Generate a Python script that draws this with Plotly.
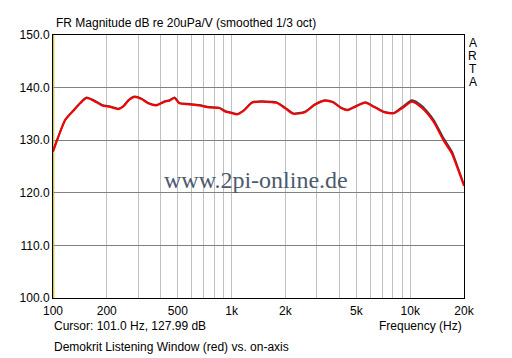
import math
import plotly.graph_objects as go

# ---- data ----
freq_hz = [100, 106, 117, 131, 142, 154, 169, 188, 209, 232,
           248, 264, 287, 313, 341, 379, 422, 449, 479, 510,
           580, 659, 748, 851, 925, 1008, 1074, 1170, 1300, 1477,
           1680, 1790, 1990, 2215, 2570, 2920, 3315, 3690, 4100, 4470,
           4970, 5600, 6280, 7130, 8100, 9020, 10240, 11640, 13500, 15340,
           17070, 18570, 20000]
listening_window_db = [127.8, 130.2, 133.8, 135.7, 137.0, 138.0, 137.5, 136.6, 136.3, 135.9,
                       136.4, 137.5, 138.2, 137.8, 137.0, 136.6, 137.3, 137.5, 138.0, 137.0,
                       136.8, 136.6, 136.2, 136.1, 135.4, 135.1, 134.9, 135.6, 137.1, 137.3,
                       137.2, 137.1, 136.1, 135.0, 135.3, 136.7, 137.5, 137.2, 136.1, 135.7,
                       136.4, 137.1, 136.3, 135.3, 135.1, 136.1, 137.3, 136.1, 133.5, 130.0,
                       127.5, 124.3, 121.3]
on_axis_db = [127.9, 130.3, 133.9, 135.8, 137.1, 138.1, 137.6, 136.7, 136.4, 136.0,
              136.5, 137.6, 138.3, 137.9, 137.1, 136.7, 137.4, 137.6, 138.1, 137.1,
              136.9, 136.7, 136.3, 136.2, 135.5, 135.2, 135.0, 135.7, 137.2, 137.4,
              137.3, 137.2, 136.2, 135.1, 135.4, 136.8, 137.6, 137.3, 136.2, 135.8,
              136.5, 137.2, 136.4, 135.4, 135.2, 136.3, 137.6, 136.5, 133.9, 130.4,
              127.9, 124.6, 121.5]
cursor_freq = 101.0
cursor_db_range = [100, 150]

grid_freqs = [100, 200, 300, 400, 500, 600, 700, 800, 900,
              1000, 2000, 3000, 4000, 5000, 6000, 7000, 8000, 9000,
              10000, 20000]
labeled = {100: "100", 200: "200", 500: "500", 1000: "1k", 2000: "2k",
           5000: "5k", 10000: "10k", 20000: "20k"}
major_freqs = [1000, 10000]
y_ticks = [100, 110, 120, 130, 140, 150]
arta_letters = ["A", "R", "T", "A"]

title_text = "FR Magnitude dB re 20uPa/V (smoothed 1/3 oct)"
cursor_text = "Cursor: 101.0 Hz, 127.99 dB"
xlabel_text = "Frequency (Hz)"
caption_text = "Demokrit Listening Window (red) vs. on-axis"
watermark_text = "www.2pi-online.de"

FONT = "Liberation Sans, Arial, sans-serif"
# page has an 8px body margin; the figure is sized to fit in the window
OFF = 8
W, H = 512 - OFF, 358 - OFF
PLOT_L, PLOT_T, PLOT_R, PLOT_B = 49, 35, 464, 298  # page pixels
PW, PH = PLOT_R - PLOT_L, PLOT_B - PLOT_T
L, T = PLOT_L - OFF, PLOT_T - OFF
R, B = W - L - PW, H - T - PH

def px(x):
    return (x - PLOT_L) / PW

def py(y):
    return (PLOT_B - y) / PH

fig = go.Figure()
fig.add_trace(go.Scatter(x=[cursor_freq, cursor_freq], y=cursor_db_range, mode="lines",
                         line=dict(color="#b8b800", width=1), hoverinfo="skip"))
fig.add_trace(go.Scatter(x=freq_hz, y=on_axis_db, mode="lines",
                         line=dict(color="#404040", width=2, shape="spline", smoothing=0.6)))
fig.add_trace(go.Scatter(x=freq_hz, y=listening_window_db, mode="lines",
                         line=dict(color="#ff0000", width=2, shape="spline", smoothing=0.6)))

xr = [math.log10(100), math.log10(20000)]

fig.update_layout(
    width=W, height=H,
    margin=dict(l=L, r=R, t=T, b=B, pad=0),
    paper_bgcolor="white", plot_bgcolor="white",
    showlegend=False,
    font=dict(family=FONT, size=12, color="black"),
    xaxis=dict(type="log", range=xr, tickmode="array", tickvals=grid_freqs,
               ticktext=[labeled.get(f, "") for f in grid_freqs],
               showgrid=True, gridcolor="#c0c0c0", gridwidth=1,
               showline=True, linecolor="black", linewidth=1, mirror=True,
               ticks="", zeroline=False, ticklabelstandoff=2,
               tickfont=dict(size=12, family=FONT)),
    xaxis2=dict(type="log", range=xr, overlaying="x", tickmode="array", tickvals=major_freqs,
                showticklabels=False, showgrid=True, gridcolor="#808080", gridwidth=1,
                showline=False, ticks="", zeroline=False),
    yaxis=dict(range=[100, 150], tickmode="array", tickvals=y_ticks,
               ticktext=[f"{v:.1f}" for v in y_ticks],
               showgrid=True, gridcolor="#808080", gridwidth=1,
               showline=True, linecolor="black", linewidth=1, mirror=True,
               ticks="", zeroline=False, tickfont=dict(size=12, family=FONT)),
)

ann = []
ann.append(dict(text=title_text, x=px(50), y=py(23), xref="paper", yref="paper",
                xanchor="left", yanchor="middle", showarrow=False, font=dict(size=12)))
for i, ch in enumerate(arta_letters):
    ann.append(dict(text=ch, x=px(473), y=py(43 + 13 * i), xref="paper", yref="paper",
                    xanchor="center", yanchor="middle", showarrow=False, font=dict(size=12)))
ann.append(dict(text=cursor_text, x=px(48), y=py(326), xref="paper", yref="paper",
                xanchor="left", yanchor="middle", showarrow=False, font=dict(size=12)))
ann.append(dict(text=xlabel_text, x=px(464), y=py(326), xref="paper", yref="paper",
                xanchor="right", yanchor="middle", showarrow=False, font=dict(size=12)))
ann.append(dict(text=caption_text, x=px(48), y=py(347), xref="paper", yref="paper",
                xanchor="left", yanchor="middle", showarrow=False, font=dict(size=12)))
ann.append(dict(text=watermark_text, x=px(254), y=py(180), xref="paper", yref="paper",
                xanchor="center", yanchor="middle", showarrow=False,
                font=dict(size=24, family="Liberation Serif, Times New Roman, serif", color="#4d5a6e")))
fig.update_layout(annotations=ann)

fig.write_html("out.html")
